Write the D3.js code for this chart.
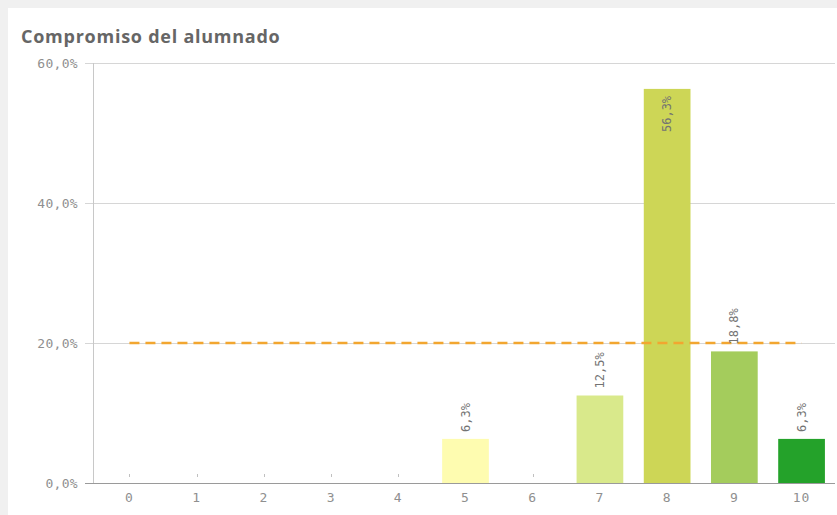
<!DOCTYPE html>
<html>
<head>
<meta charset="utf-8">
<script src="https://cdn.jsdelivr.net/npm/d3@7"></script>
<style>
  html, body { margin: 0; padding: 0; background: #f2f2f2; }
  svg { display: block; }
</style>
</head>
<body>
<svg id="chart" width="837" height="515"></svg>
<script>
// Engagement scores 0–10 and share of students per score
const categories = ["0", "1", "2", "3", "4", "5", "6", "7", "8", "9", "10"];
const values = [0, 0, 0, 0, 0, 6.3, 0, 12.5, 56.3, 18.8, 6.3];
const barColors = ["#fefcb0", "#fefcb0", "#fefcb0", "#fefcb0", "#fefcb0", "#fefcb0",
                   "#fefcb0", "#d9e98b", "#cdd656", "#a4cc5c", "#24a22a"];
const yTicks = [0, 20, 40, 60];
const referenceValue = 20;
const title = "Compromiso del alumnado";

const svg = d3.select("#chart");
const W = 837, H = 515;
const mono = "'DejaVu Sans Mono', monospace";

// card background
svg.append("rect").attr("x", 0).attr("y", 0).attr("width", W).attr("height", H).attr("fill", "#f0f0f0");
svg.append("rect").attr("x", 8).attr("y", 8).attr("width", W - 8).attr("height", H - 8).attr("fill", "#ffffff");

svg.append("text")
  .attr("x", 21).attr("y", 43)
  .attr("font-family", "'Open Sans', 'Noto Sans', sans-serif")
  .attr("font-weight", "bold")
  .attr("font-size", 18)
  .attr("letter-spacing", 0.75)
  .attr("fill", "#666666")
  .text(title);

const margin = { left: 93, right: 5, top: 63, bottom: 32 };
const x = d3.scaleBand().domain(categories).range([96, 835]).paddingInner(0.305).paddingOuter(0.15);
const y = d3.scaleLinear().domain([0, 60]).range([H - margin.bottom, margin.top]);

// gridlines
svg.append("g").selectAll("line").data(yTicks).join("line")
  .attr("x1", margin.left - 8).attr("x2", W - 2)
  .attr("y1", d => Math.round(y(d)) + 0.5).attr("y2", d => Math.round(y(d)) + 0.5)
  .attr("stroke", d => d === 0 ? "#9a9a9a" : "#d6d6d6").attr("stroke-width", 1);

// y axis line
svg.append("line")
  .attr("x1", margin.left + 0.5).attr("x2", margin.left + 0.5)
  .attr("y1", y(60)).attr("y2", y(0))
  .attr("stroke", "#c8c8c8");

// y tick labels
svg.append("g").selectAll("text").data(yTicks).join("text")
  .attr("x", 78).attr("y", d => y(d) + 4.5)
  .attr("text-anchor", "end")
  .attr("font-family", mono).attr("font-size", 13)
  .attr("letter-spacing", 0.3)
  .attr("fill", "#8f8f8f")
  .text(d => d.toFixed(1).replace(".", ",") + "%");

// small category ticks
svg.append("g").selectAll("line").data(categories).join("line")
  .attr("x1", d => Math.round(x(d) + x.bandwidth() / 2) + 0.5)
  .attr("x2", d => Math.round(x(d) + x.bandwidth() / 2) + 0.5)
  .attr("y1", y(0) - 9).attr("y2", y(0) - 6)
  .attr("stroke", "#c0c0c0");

// x labels
svg.append("g").selectAll("text").data(categories).join("text")
  .attr("x", d => x(d) + x.bandwidth() / 2).attr("y", y(0) + 19)
  .attr("text-anchor", "middle")
  .attr("font-family", mono).attr("font-size", 13)
  .attr("letter-spacing", 1)
  .attr("fill", "#8f8f8f")
  .text(d => d);

// bars
const data = categories.map((c, i) => ({ c, v: values[i], color: barColors[i] }));
svg.append("g").selectAll("rect").data(data.filter(d => d.v > 0)).join("rect")
  .attr("x", d => x(d.c)).attr("width", x.bandwidth())
  .attr("y", d => y(d.v)).attr("height", d => y(0) - y(d.v))
  .attr("fill", d => d.color);

// reference line
svg.append("line")
  .attr("x1", x(categories[0]) + x.bandwidth() / 2)
  .attr("x2", x(categories[categories.length - 1]) + x.bandwidth() / 2)
  .attr("y1", y(referenceValue)).attr("y2", y(referenceValue))
  .attr("stroke", "#f2a630").attr("stroke-width", 2.5)
  .attr("stroke-dasharray", "10,6");

// value labels (rotated)
const fmt = v => v.toFixed(1).replace(".", ",") + "%";
svg.append("g").selectAll("text").data(data.filter(d => d.v > 0)).join("text")
  .attr("transform", d => {
    const cx = x(d.c) + x.bandwidth() / 2 + 4;
    const inside = d.v > 40;
    const yy = inside ? y(d.v) + 7 : y(d.v) - 7;
    return `translate(${cx},${yy}) rotate(-90)`;
  })
  .attr("text-anchor", d => d.v > 40 ? "end" : "start")
  .attr("font-family", mono).attr("font-size", 12)
  .attr("fill", "#737373")
  .text(d => fmt(d.v));
</script>
</body>
</html>
